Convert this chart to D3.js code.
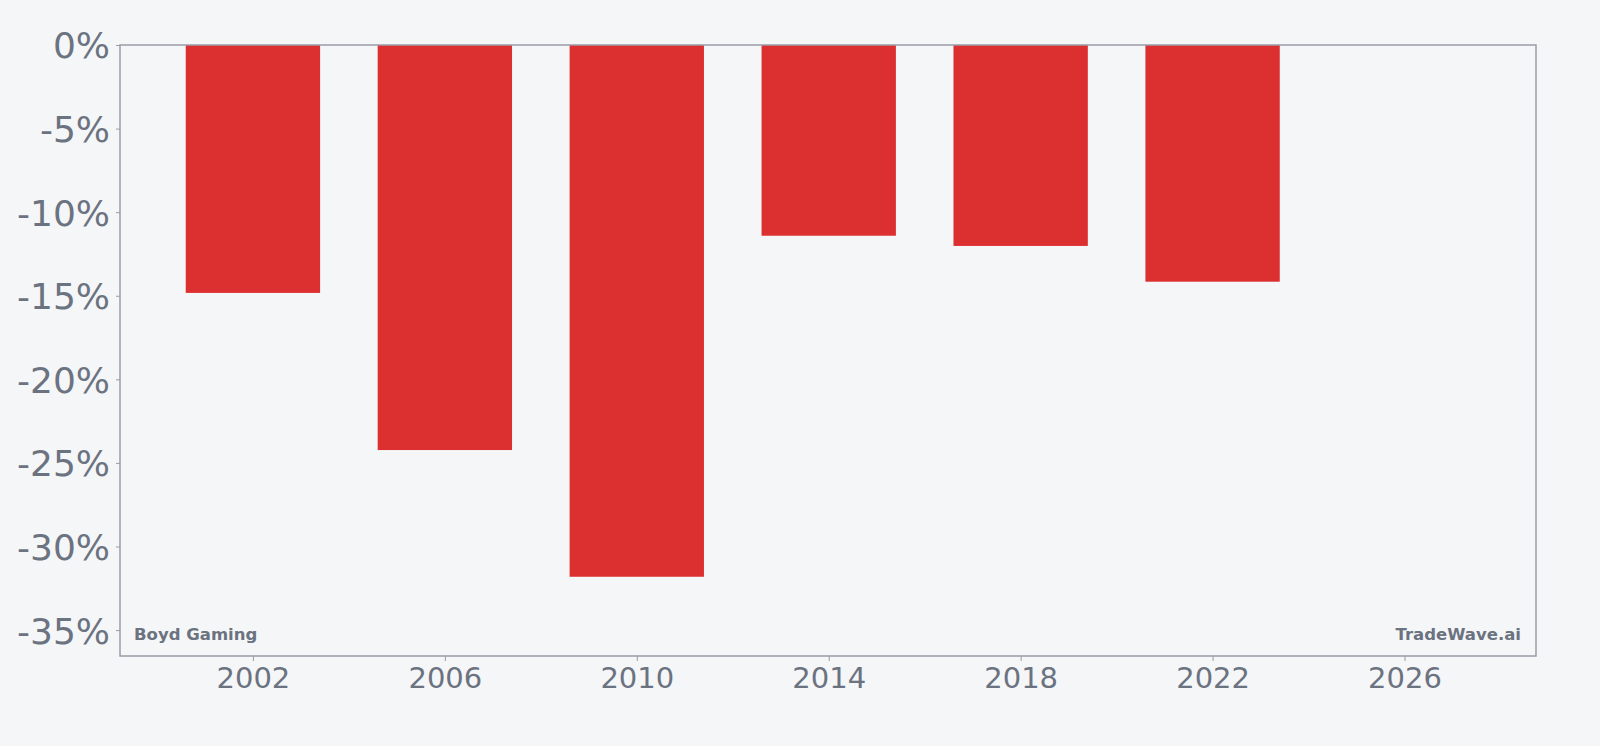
<!DOCTYPE html>
<html>
<head>
<meta charset="utf-8">
<script src="https://cdn.jsdelivr.net/npm/d3@7"></script>
<style>
  body { margin: 0; background: #f5f6f8; }
  svg { display: block; }
  .tick text { font-family: "DejaVu Sans", sans-serif; fill: #6b7280; }
</style>
</head>
<body>
<div id="chart"></div>
<script>
// yearly change, Boyd Gaming
var years = [2002, 2006, 2010, 2014, 2018, 2022]
var values = [-14.83, -24.23, -31.81, -11.41, -12.02, -14.16]
var xTicks = [2002, 2006, 2010, 2014, 2018, 2022, 2026]
var yTicks = [0, -5, -10, -15, -20, -25, -30, -35]

var width = 1600, height = 746
var margin = {top: 45, right: 64, bottom: 90, left: 120}

var svg = d3.select("#chart")
    .append("svg")
    .attr("width", width)
    .attr("height", height)

svg.append("rect")
    .attr("width", width)
    .attr("height", height)
    .attr("fill", "#f5f6f8")

var x = d3.scaleLinear()
    .domain([1999.23, 2028.74])
    .range([margin.left, width - margin.right])

var y = d3.scaleLinear()
    .domain([-36.55, 0])
    .range([height - margin.bottom, margin.top])

var barW = 2.8 // in years

// bars
svg.selectAll("rect.bar")
    .data(years)
    .enter()
    .append("rect")
    .attr("class", "bar")
    .attr("x", function (d) { return x(d - barW / 2) })
    .attr("width", function (d) { return x(d + barW / 2) - x(d - barW / 2) })
    .attr("y", y(0))
    .attr("height", function (d, i) { return y(values[i]) - y(0) })
    .attr("fill", "#dc3030")

// axes
var xAxis = d3.axisBottom(x)
    .tickValues(xTicks)
    .tickFormat(function (d) { return String(d) })
    .tickSize(5)
    .tickPadding(6)

var yAxis = d3.axisLeft(y)
    .tickValues(yTicks)
    .tickFormat(function (d) { return String(d) + "%" })
    .tickSize(4)
    .tickPadding(6)

var gx = svg.append("g")
    .attr("transform", "translate(0," + (height - margin.bottom) + ")")
    .call(xAxis)
gx.selectAll("text").attr("font-size", "29px")

var gy = svg.append("g")
    .attr("transform", "translate(" + margin.left + ",0)")
    .call(yAxis)
gy.selectAll("text").attr("font-size", "36px").attr("dy", "0.36em")

svg.selectAll(".domain").remove()
svg.selectAll(".tick line").attr("stroke", "#9a9ca6")

// frame
svg.append("rect")
    .attr("x", margin.left)
    .attr("y", margin.top)
    .attr("width", width - margin.left - margin.right)
    .attr("height", height - margin.top - margin.bottom)
    .attr("fill", "none")
    .attr("stroke", "#9a9ca6")
    .attr("stroke-width", 1.5)

// labels
svg.append("text")
    .attr("x", margin.left + 14)
    .attr("y", height - margin.bottom - 16)
    .attr("font-family", "DejaVu Sans")
    .attr("font-weight", "bold")
    .attr("font-size", "16.5px")
    .attr("fill", "#6b7280")
    .text("Boyd Gaming")

svg.append("text")
    .attr("x", width - margin.right - 15)
    .attr("y", height - margin.bottom - 16)
    .attr("text-anchor", "end")
    .attr("font-family", "DejaVu Sans")
    .attr("font-weight", "bold")
    .attr("font-size", "16.5px")
    .attr("fill", "#6b7280")
    .text("TradeWave.ai")
</script>
</body>
</html>
